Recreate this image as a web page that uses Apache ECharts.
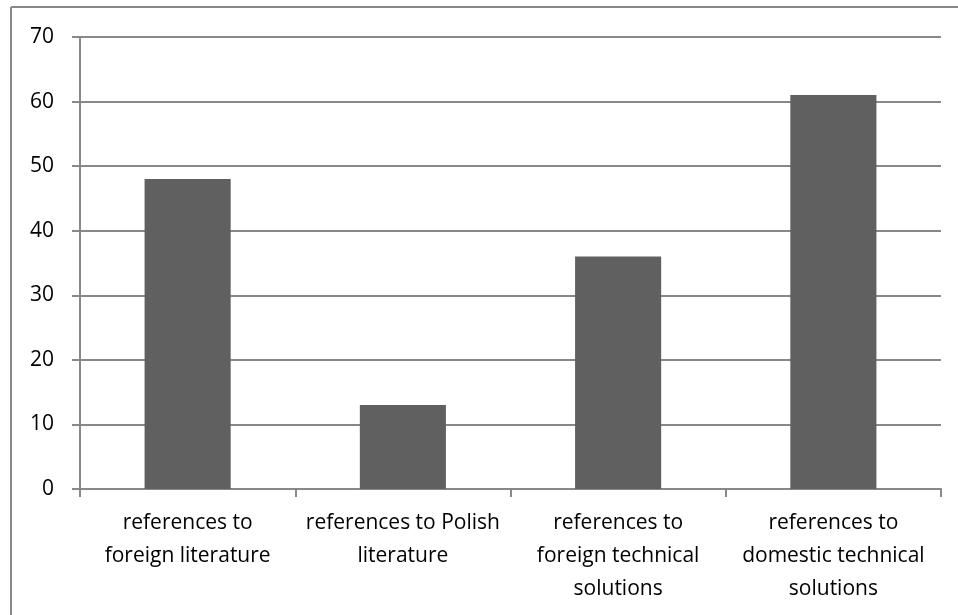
<!DOCTYPE html>
<html><head><meta charset="utf-8">
<script src="https://cdn.jsdelivr.net/npm/echarts@6/dist/echarts.min.js"></script>
<style>html,body{margin:0;padding:0;background:#fff}#c{width:958px;height:615px}</style>
</head><body><div id="c"></div>
<script>
const categories = ["references to\nforeign literature", "references to Polish\nliterature", "references to\nforeign technical\nsolutions", "references to\ndomestic technical\nsolutions"];
const values = [48, 13, 36, 61];
const chart = echarts.init(document.getElementById('c'));
chart.setOption({
  animation: false,
  grid: {left: 80, right: 17, top: 37, bottom: 126},
  graphic: [
    {type: 'line', shape: {x1: 11, y1: 7, x2: 958, y2: 7}, style: {stroke: '#888', lineWidth: 2}},
    {type: 'line', shape: {x1: 11, y1: 7, x2: 11, y2: 615}, style: {stroke: '#888', lineWidth: 2}}
  ],
  xAxis: {
    type: 'category', data: categories,
    axisLine: {lineStyle: {color: '#888', width: 2}},
    axisTick: {show: true, length: 8, lineStyle: {color: '#888', width: 2}},
    axisLabel: {color: '#000', fontFamily: 'Open Sans', fontSize: 21, lineHeight: 33, margin: 18, interval: 0}
  },
  yAxis: {
    type: 'value', min: 0, max: 70, interval: 10,
    axisLine: {show: true, lineStyle: {color: '#888', width: 2}},
    axisTick: {show: true, length: 8, lineStyle: {color: '#888', width: 2}},
    splitLine: {lineStyle: {color: '#888', width: 2}},
    axisLabel: {color: '#000', fontFamily: 'Open Sans', fontSize: 21, margin: 26}
  },
  series: [{type: 'bar', data: values, barWidth: '40%', itemStyle: {color: '#606060'}}]
});
</script></body></html>
